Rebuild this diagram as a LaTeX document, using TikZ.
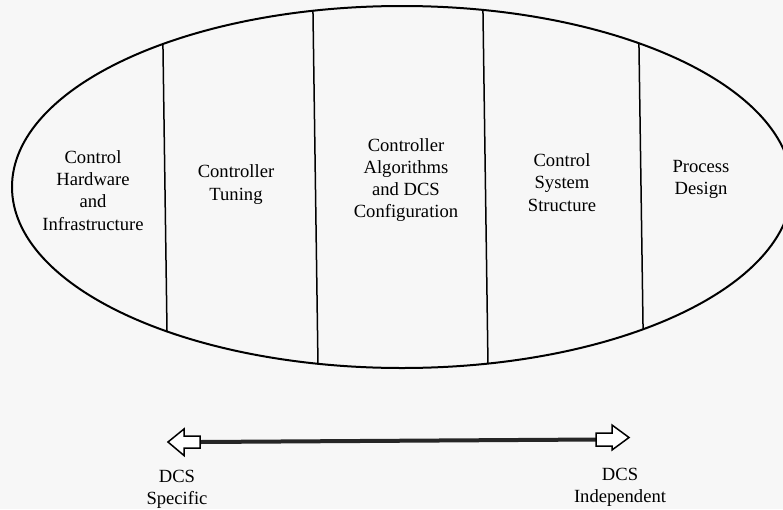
\documentclass[tikz,border=0pt]{standalone}
\usepackage{fontspec}
\setmainfont{Liberation Serif}
\begin{document}
\begin{tikzpicture}[x=1pt,y=-1pt,
  lbl/.style={align=center,font=\fontsize{18.6}{22.2}\selectfont,inner sep=0pt,text=black},
  divider/.style={line width=1.5pt},
  outline/.style={line width=2pt},
  headbox/.style={draw,line width=1.5pt,fill=white,line join=miter},
  shaft/.style={line width=4pt,black!85}]
\useasboundingbox[fill=black!3] (0,0) rectangle (783,509);
% big ellipse
\coordinate (E) at (402,187);
\begin{scope}
  \clip (E) ellipse [x radius=390pt, y radius=181pt];
  \draw[divider] (162.3,0) -- (167.7,380);
  \draw[divider] (312.8,0) -- (318.2,380);
  \draw[divider] (482.8,0) -- (488.2,380);
  \draw[divider] (638.3,0) -- (643.8,380);
\end{scope}
\draw[outline] (E) ellipse [x radius=390pt, y radius=181pt];
% labels
\node[lbl] (hw) at (93,190.5) {Control\\Hardware\\and\\Infrastructure};
\node[lbl] (tun) at (236,184.5) {Controller\\Tuning};
\node[lbl] (alg) at (406,180) {Controller\\Algorithms\\and DCS\\Configuration};
\node[lbl] (css) at (562,182.5) {Control\\System\\Structure};
\node[lbl] (pd) at (701,179.5) {Process\\Design};
\node[lbl] (spec) at (177,489.5) {DCS\\Specific};
\node[lbl] (indep) at (620,487) {DCS\\Independent};
% double arrow
\coordinate (la) at (200,442);
\coordinate (ra) at (596,439.5);
\draw[shaft] (la) -- (ra);
\draw[headbox] (168,442) -- (184,429) -- (184,436) -- (200,436) -- (200,448) -- (184,448) -- (184,455.5) -- cycle;
\draw[headbox] (629,437.5) -- (612,425) -- (612,433) -- (596,433) -- (596,446) -- (612,446) -- (612,450) -- cycle;
\end{tikzpicture}
\end{document}
